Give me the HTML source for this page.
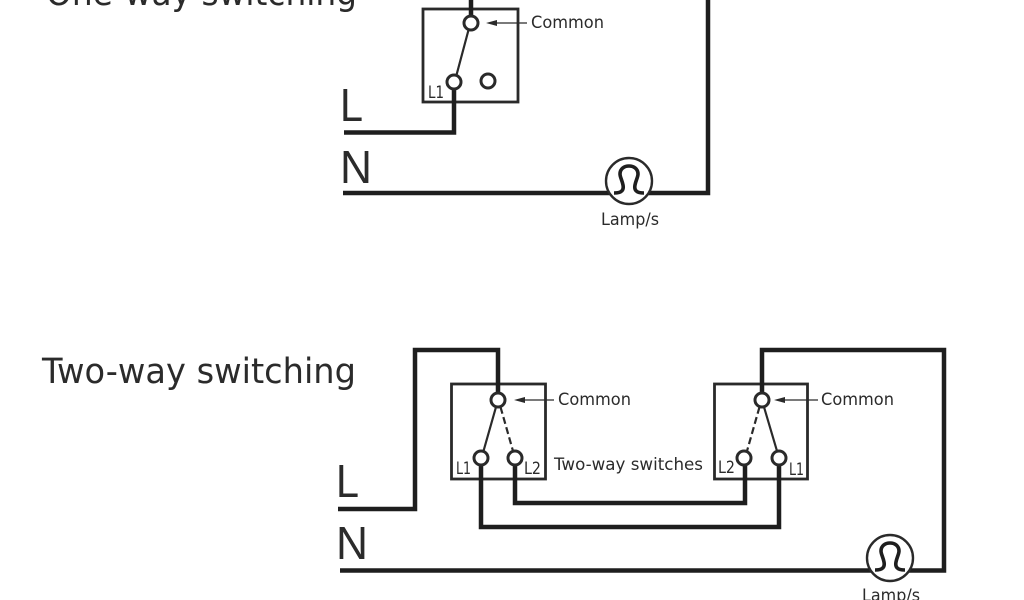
<!DOCTYPE html>
<html><head><meta charset="utf-8"><style>
html,body{margin:0;padding:0;background:#fff;width:1024px;height:600px;overflow:hidden}
svg{display:block;filter:blur(0.35px)}
text{font-family:"DejaVu Sans","Liberation Sans",sans-serif;fill:#2b2b2b;font-size:17px}
.t{font-size:35px}
.b{font-family:"Liberation Sans",sans-serif;font-size:46px}
.w{fill:none;stroke:#1e1e1e;stroke-width:4.5;stroke-linejoin:miter}
.x{fill:none;stroke:#2a2a2a;stroke-width:2.8}
.c{fill:#fff;stroke:#2a2a2a;stroke-width:3}
.s{fill:none;stroke:#2a2a2a;stroke-width:2.2}
.a{fill:none;stroke:#2a2a2a;stroke-width:1.2}
.f{fill:#2a2a2a;stroke:none}
.l{fill:none;stroke:#1e1e1e;stroke-width:3.6}
.lc{fill:#fff;stroke:#2a2a2a;stroke-width:2.4}
</style></head><body>
<svg width="1024" height="600" viewBox="0 0 1024 600" xmlns="http://www.w3.org/2000/svg">
<!-- One-way -->
<text class="t" x="46" y="5" textLength="311" lengthAdjust="spacingAndGlyphs">One-way switching</text>
<rect class="x" x="423" y="9" width="95" height="93"/>
<path class="w" d="M471 0V18"/>
<path class="w" d="M344 132.500H454V88"/>
<path class="w" d="M343 193H708V0"/>
<path class="s" d="M468.500 30L456.500 75"/>
<circle class="c" cx="471" cy="23" r="7"/>
<circle class="c" cx="454" cy="82" r="7"/>
<circle class="c" cx="488" cy="81" r="7"/>
<text x="531" y="28" textLength="73" lengthAdjust="spacingAndGlyphs">Common</text>
<path class="a" d="M492 23H527"/><path class="f" d="M486 23L497 20V26Z"/>
<text x="428" y="98" textLength="16" lengthAdjust="spacingAndGlyphs">L1</text>
<text class="b" x="340" y="121" textLength="23" lengthAdjust="spacingAndGlyphs">L</text>
<text class="b" x="340" y="183" textLength="32" lengthAdjust="spacingAndGlyphs">N</text>
<g transform="translate(629 181)">
<circle class="lc" r="23"/>
<path class="l" d="M-15 12C-7 12-5 9-6 4C-7-1-9-4-9-7C-9-12-5-15 0-15C5-15 9-12 9-7C9-4 7-1 6 4C5 9 7 12 15 12"/>
</g>
<text x="601" y="225" textLength="58" lengthAdjust="spacingAndGlyphs">Lamp/s</text>

<!-- Two-way -->
<text class="t" x="42" y="383" textLength="314" lengthAdjust="spacingAndGlyphs">Two-way switching</text>
<rect class="x" x="451.500" y="384" width="94" height="95"/>
<rect class="x" x="714.500" y="384" width="93" height="95"/>
<path class="w" d="M338 509H415V350H498V394"/>
<path class="w" d="M515 464V503H745V464"/>
<path class="w" d="M481 464V527H779V464"/>
<path class="w" d="M340 570.500H944V350H762V394"/>
<path class="s" d="M496 407L483.500 451"/>
<path class="s" stroke-dasharray="7 3.500" d="M500.500 407L513 451"/>
<path class="s" stroke-dasharray="7 3.500" d="M759.500 407L747 451"/>
<path class="s" d="M764 407L777 451"/>
<circle class="c" cx="498" cy="400" r="7"/>
<circle class="c" cx="481" cy="458" r="7"/>
<circle class="c" cx="515" cy="458" r="7"/>
<circle class="c" cx="762" cy="400" r="7"/>
<circle class="c" cx="744" cy="458" r="7"/>
<circle class="c" cx="779" cy="458" r="7"/>
<text x="558" y="405" textLength="73" lengthAdjust="spacingAndGlyphs">Common</text>
<path class="a" d="M520 400H554"/><path class="f" d="M514 400L525 397V403Z"/>
<text x="821" y="405" textLength="73" lengthAdjust="spacingAndGlyphs">Common</text>
<path class="a" d="M780 400H818"/><path class="f" d="M774 400L785 397V403Z"/>
<text x="554" y="470" textLength="149" lengthAdjust="spacingAndGlyphs">Two-way switches</text>
<text x="456" y="474" textLength="15" lengthAdjust="spacingAndGlyphs">L1</text>
<text x="524" y="474" textLength="17" lengthAdjust="spacingAndGlyphs">L2</text>
<text x="718" y="473" textLength="17" lengthAdjust="spacingAndGlyphs">L2</text>
<text x="789" y="475" textLength="15" lengthAdjust="spacingAndGlyphs">L1</text>
<text class="b" x="336" y="497" textLength="23" lengthAdjust="spacingAndGlyphs">L</text>
<text class="b" x="336" y="559" textLength="32" lengthAdjust="spacingAndGlyphs">N</text>
<g transform="translate(890 558)">
<circle class="lc" r="23"/>
<path class="l" d="M-15 12C-7 12-5 9-6 4C-7-1-9-4-9-7C-9-12-5-15 0-15C5-15 9-12 9-7C9-4 7-1 6 4C5 9 7 12 15 12"/>
</g>
<text x="862" y="601" textLength="58" lengthAdjust="spacingAndGlyphs">Lamp/s</text>
</svg>
</body></html>
